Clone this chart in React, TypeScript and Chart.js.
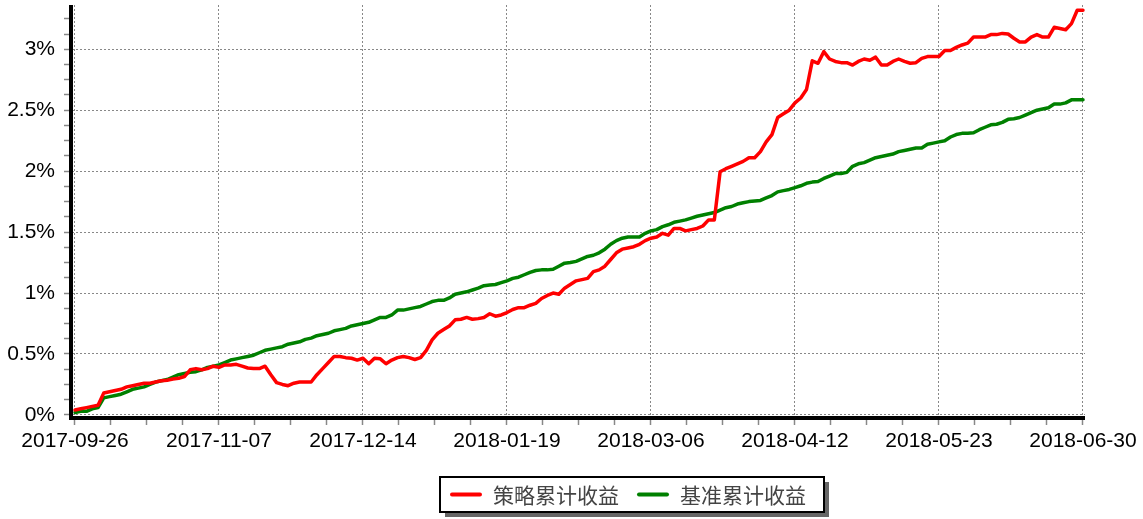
import React, { useEffect, useRef } from "react";
import { Chart, registerables } from "chart.js";

Chart.register(...registerables);

const seriesNames = ["策略累计收益", "基准累计收益"];
const seriesColors = ["#ff0000", "#008000"];

const tickLabels = [
  "2017-09-26",
  "2017-11-07",
  "2017-12-14",
  "2018-01-19",
  "2018-03-06",
  "2018-04-12",
  "2018-05-23",
  "2018-06-30",
];

// strategy cumulative return (%), one value per trading day
const strategy = [
  0.04, 0.05, 0.06, 0.07, 0.08, 0.18, 0.19, 0.2, 0.21, 0.23,
  0.24, 0.25, 0.26, 0.26, 0.27, 0.28, 0.285, 0.295, 0.3, 0.315,
  0.37, 0.38, 0.37, 0.38, 0.4, 0.39, 0.41, 0.41, 0.415, 0.4,
  0.385, 0.38, 0.38, 0.4, 0.33, 0.265, 0.25, 0.24, 0.26, 0.27,
  0.27, 0.27, 0.33, 0.38, 0.43, 0.48, 0.48, 0.47, 0.465, 0.45,
  0.465, 0.42, 0.465, 0.46, 0.42, 0.45, 0.47, 0.48, 0.47, 0.455,
  0.47, 0.53, 0.615, 0.67, 0.7, 0.73, 0.78, 0.785, 0.8, 0.785,
  0.79, 0.8, 0.83, 0.81, 0.82, 0.84, 0.865, 0.88, 0.88, 0.9,
  0.915, 0.955, 0.98, 1.0, 0.99, 1.04, 1.07, 1.1, 1.11, 1.12,
  1.175, 1.19, 1.22, 1.275, 1.33, 1.36, 1.37, 1.38, 1.4, 1.43,
  1.45, 1.46, 1.49, 1.475, 1.53, 1.53, 1.51, 1.52, 1.53, 1.55,
  1.6, 1.6, 1.995, 2.02, 2.04, 2.06, 2.08, 2.11, 2.11, 2.16,
  2.24, 2.3, 2.44, 2.47, 2.5, 2.56, 2.6, 2.67, 2.905, 2.885,
  2.98, 2.92, 2.9, 2.89, 2.89, 2.87, 2.9, 2.92, 2.91, 2.935,
  2.87, 2.87, 2.9, 2.92, 2.9, 2.885, 2.89, 2.925, 2.94, 2.94,
  2.94, 2.99, 2.99, 3.015, 3.035, 3.05, 3.1, 3.1, 3.1, 3.12,
  3.12, 3.13, 3.125, 3.09, 3.06, 3.06, 3.1, 3.12, 3.1, 3.1,
  3.18, 3.17, 3.16, 3.21, 3.32, 3.32,
];

// benchmark cumulative return (%)
const benchmark = [
  0.02, 0.03, 0.03, 0.05, 0.06, 0.14, 0.15, 0.16, 0.17, 0.19,
  0.21, 0.22, 0.23, 0.25, 0.27, 0.28, 0.29, 0.31, 0.33, 0.34,
  0.35, 0.355, 0.37, 0.39, 0.4, 0.41, 0.43, 0.45, 0.46, 0.47,
  0.48, 0.49, 0.51, 0.53, 0.54, 0.55, 0.56, 0.58, 0.59, 0.6,
  0.62, 0.63, 0.65, 0.66, 0.67, 0.69, 0.7, 0.71, 0.73, 0.74,
  0.75, 0.76, 0.78, 0.8, 0.8, 0.82, 0.86, 0.86, 0.87, 0.88,
  0.89, 0.91, 0.93, 0.94, 0.94, 0.96, 0.99, 1.0, 1.01, 1.025,
  1.04, 1.06, 1.065, 1.07, 1.085, 1.1, 1.12, 1.13, 1.15, 1.17,
  1.185, 1.19, 1.19, 1.195, 1.22, 1.245, 1.25, 1.26, 1.28, 1.3,
  1.31, 1.33, 1.36, 1.4, 1.43, 1.45, 1.46, 1.46, 1.46, 1.49,
  1.51, 1.52, 1.545, 1.56, 1.58, 1.59, 1.6, 1.615, 1.63, 1.64,
  1.65, 1.66, 1.68, 1.7, 1.71, 1.73, 1.74, 1.75, 1.755, 1.76,
  1.78, 1.8, 1.83, 1.84, 1.85, 1.865, 1.88, 1.9, 1.91, 1.915,
  1.94, 1.96, 1.98, 1.98, 1.99, 2.04, 2.06, 2.07, 2.09, 2.11,
  2.12, 2.13, 2.14, 2.16, 2.17, 2.18, 2.19, 2.19, 2.22, 2.23,
  2.24, 2.25, 2.28, 2.3, 2.31, 2.31, 2.315, 2.34, 2.36, 2.38,
  2.385, 2.4, 2.425, 2.43, 2.44, 2.46, 2.48, 2.5, 2.51, 2.52,
  2.55, 2.55, 2.56, 2.585, 2.585, 2.585,
];

const TICK_EVERY = 25; // trading days between labelled dates
const X_MINOR = 4; // minor intervals per labelled interval
const Y_MAJOR = 0.5;
const Y_MINOR = 0.125;
const Y_MIN = -0.017;
const Y_MAX = 3.363;

const FONT = '"Liberation Sans", Arial, sans-serif';

const axesPlugin = {
  id: "thickAxes",
  afterDatasetsDraw(chart: any) {
    const { ctx, chartArea } = chart;
    const left = Math.round(chartArea.left);
    const right = Math.round(chartArea.right);
    const top = Math.round(chartArea.top);
    const bottom = Math.round(chartArea.bottom);
    ctx.save();
    ctx.fillStyle = "#000";
    // vertical axis line
    ctx.fillRect(left - 3, top, 4, bottom - top + 3);
    // horizontal axis line
    ctx.fillRect(left - 3, bottom - 1, right - left + 3, 4);
    ctx.restore();
  },
};

const legendPlugin = {
  id: "boxLegend",
  afterDraw(chart: any) {
    const ctx = chart.ctx as CanvasRenderingContext2D;
    ctx.save();
    ctx.font = '21px "Noto Sans CJK SC", sans-serif';
    const items = chart.data.datasets.map((ds: any) => ({
      label: ds.label as string,
      color: ds.borderColor as string,
      w: ctx.measureText(ds.label).width,
    }));
    const lineLen = 32;
    const gap = 11;
    const itemGap = 18;
    const padL = 10;
    const padR = 18;
    let total = padL + padR;
    items.forEach((it: any, k: number) => {
      total += lineLen + gap + it.w + (k < items.length - 1 ? itemGap : 0);
    });
    const cx = 631.5;
    const top = 477;
    const h = 35;
    const left = Math.round(cx - total / 2);
    ctx.fillStyle = "#666";
    ctx.fillRect(left + 5, top + 5, total, h);
    ctx.fillStyle = "#fff";
    ctx.fillRect(left, top, total, h);
    ctx.strokeStyle = "#000";
    ctx.lineWidth = 2;
    ctx.strokeRect(left, top, total, h);
    let x = left + padL;
    const y = top + h / 2;
    items.forEach((it: any) => {
      ctx.beginPath();
      ctx.strokeStyle = it.color;
      ctx.lineWidth = 4;
      ctx.lineCap = "round";
      ctx.moveTo(x + 2, y);
      ctx.lineTo(x + lineLen - 2, y);
      ctx.stroke();
      x += lineLen + gap;
      ctx.fillStyle = "#444";
      ctx.textBaseline = "middle";
      ctx.textAlign = "left";
      ctx.fillText(it.label, x, y + 1);
      x += it.w + itemGap;
    });
    ctx.restore();
  },
};

function isMultiple(v: number, step: number) {
  const k = v / step;
  return Math.abs(k - Math.round(k)) < 1e-6;
}

export default function App() {
  const canvasRef = useRef<HTMLCanvasElement | null>(null);

  useEffect(() => {
    if (!canvasRef.current) return;
    const xStep = TICK_EVERY / X_MINOR;
    const lastIndex = strategy.length - 1;

    const chart = new Chart(canvasRef.current, {
      type: "line",
      data: {
        datasets: [
          {
            label: seriesNames[0],
            data: strategy.map((v, i) => ({ x: i, y: v })),
            borderColor: seriesColors[0],
            backgroundColor: seriesColors[0],
            borderWidth: 3.5,
            pointRadius: 0,
            tension: 0,
            borderJoinStyle: "round",
            borderCapStyle: "round",
          },
          {
            label: seriesNames[1],
            data: benchmark.map((v, i) => ({ x: i, y: v })),
            borderColor: seriesColors[1],
            backgroundColor: seriesColors[1],
            borderWidth: 3.5,
            pointRadius: 0,
            tension: 0,
            borderJoinStyle: "round",
            borderCapStyle: "round",
          },
        ],
      },
      options: {
        animation: false,
        responsive: false,
        maintainAspectRatio: false,
        layout: { autoPadding: false, padding: { left: 0, top: 5, right: 58, bottom: 52 } },
        plugins: {
          legend: { display: false },
          tooltip: { enabled: false },
        },
        scales: {
          x: {
            type: "linear",
            min: -0.52,
            max: lastIndex + 0.35,
            afterBuildTicks: (scale: any) => {
              const t: any[] = [];
              for (let k = 0; k * xStep <= lastIndex + 1e-9; k++) t.push({ value: k * xStep });
              scale.ticks = t;
            },
            afterFit: (scale: any) => {
              scale.height = 50;
              scale.paddingLeft = 0;
              scale.paddingRight = 0;
              scale.paddingTop = 0;
              scale.paddingBottom = 0;
            },
            ticks: {
              autoSkip: false,
              maxRotation: 0,
              minRotation: 0,
              padding: 4,
              color: "#000",
              font: { family: FONT, size: 21 },
              callback: (value: any) => {
                const v = Number(value);
                if (isMultiple(v, TICK_EVERY)) return tickLabels[Math.round(v / TICK_EVERY)] ?? "";
                return "";
              },
            },
            grid: {
              color: (c: any) => {
                const v = c.tick ? c.tick.value : 0;
                return isMultiple(v, TICK_EVERY) ? "#888" : "rgba(0,0,0,0)";
              },
              tickColor: "#888",
              tickLength: 8,
              tickWidth: 1.5,
              lineWidth: 1,
            },
            border: { display: false, dash: [2, 2] },
          },
          y: {
            type: "linear",
            min: Y_MIN,
            max: Y_MAX,
            afterBuildTicks: (scale: any) => {
              const t: any[] = [];
              for (let k = 0; k * Y_MINOR <= Y_MAX; k++) t.push({ value: k * Y_MINOR });
              scale.ticks = t;
            },
            afterFit: (scale: any) => {
              scale.width = 72;
              scale.paddingLeft = 0;
              scale.paddingRight = 0;
              scale.paddingTop = 0;
              scale.paddingBottom = 0;
            },
            ticks: {
              autoSkip: false,
              padding: 9,
              color: "#000",
              font: { family: FONT, size: 21 },
              callback: (value: any) => {
                const v = Number(value);
                if (isMultiple(v, Y_MAJOR)) return `${Math.round(v / Y_MAJOR) * Y_MAJOR}%`;
                return "";
              },
            },
            grid: {
              color: (c: any) => {
                const v = c.tick ? c.tick.value : 0;
                return isMultiple(v, Y_MAJOR) ? "#888" : "rgba(0,0,0,0)";
              },
              tickColor: "#888",
              tickLength: 8,
              tickWidth: 1.5,
              lineWidth: 1,
            },
            border: { display: false, dash: [2, 2] },
          },
        },
      },
      plugins: [axesPlugin, legendPlugin],
    } as any);

    return () => chart.destroy();
  }, []);

  return (
    <div style={{ position: "absolute", left: 0, top: 0, width: 1143, height: 519, background: "#fff" }}>
      <canvas ref={canvasRef} width={1143} height={519} style={{ display: "block", width: 1143, height: 519 }} />
    </div>
  );
}
